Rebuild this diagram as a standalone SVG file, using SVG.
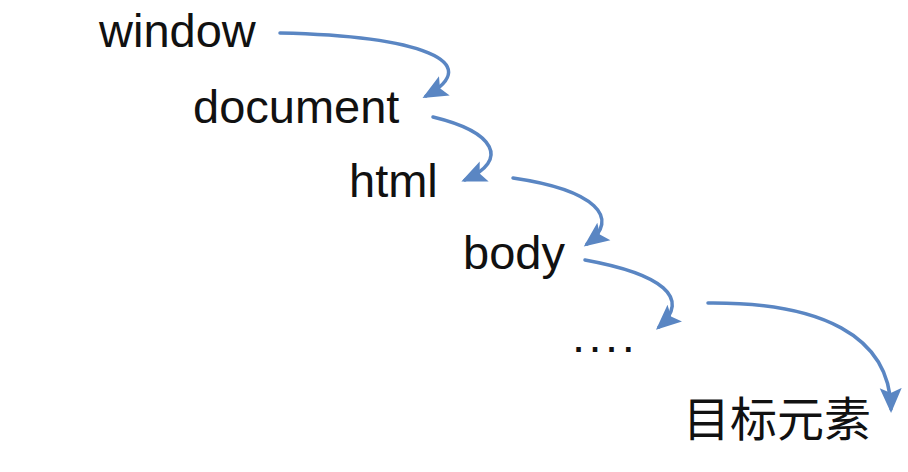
<svg xmlns="http://www.w3.org/2000/svg" width="908" height="472" viewBox="0 0 908 472">
<defs>
<style>
.t{font-family:"Liberation Sans",Arial,Helvetica,sans-serif;font-size:47px;fill:#111}
.cjk{font-family:"Liberation Sans","Noto Sans CJK SC",sans-serif;font-size:47px;fill:#111}
.c{fill:none;stroke:#5a86c3;stroke-width:3.5;stroke-linecap:round;marker-end:url(#ah)}
</style>
<marker id="ah" markerUnits="userSpaceOnUse" markerWidth="28" markerHeight="24" refX="21" refY="11" orient="auto" viewBox="0 0 28 22">
<path d="M0,0 L25,11 L0,22 L5,11 Z" fill="#5a86c3"/>
</marker>
</defs>
<rect width="908" height="472" fill="#fff"/>
<g id="n-window"><text class="t" x="99" y="47">window</text></g>
<g id="n-document"><text class="t" x="193" y="123">document</text></g>
<g id="n-html"><text class="t" x="349" y="197">html</text></g>
<g id="n-body"><text class="t" x="463" y="269">body</text></g>
<g id="n-dots"><text class="t" x="572" y="352" letter-spacing="3.5">....</text></g>
<g id="n-target"><text class="cjk" x="683" y="436">目标元素</text></g>
<g id="connectors">
<path class="c" d="M280 33 C 420 36, 487 62, 426 96"/>
<path class="c" d="M433 117 C 495 132, 510 160, 465 180"/>
<path class="c" d="M513 178 C 595 190, 622 218, 587 244"/>
<path class="c" d="M585 260 C 662 274, 692 298, 659 327"/>
<path class="c" d="M708 303 C 820 302, 890 335, 891 409"/>
</g>
</svg>
